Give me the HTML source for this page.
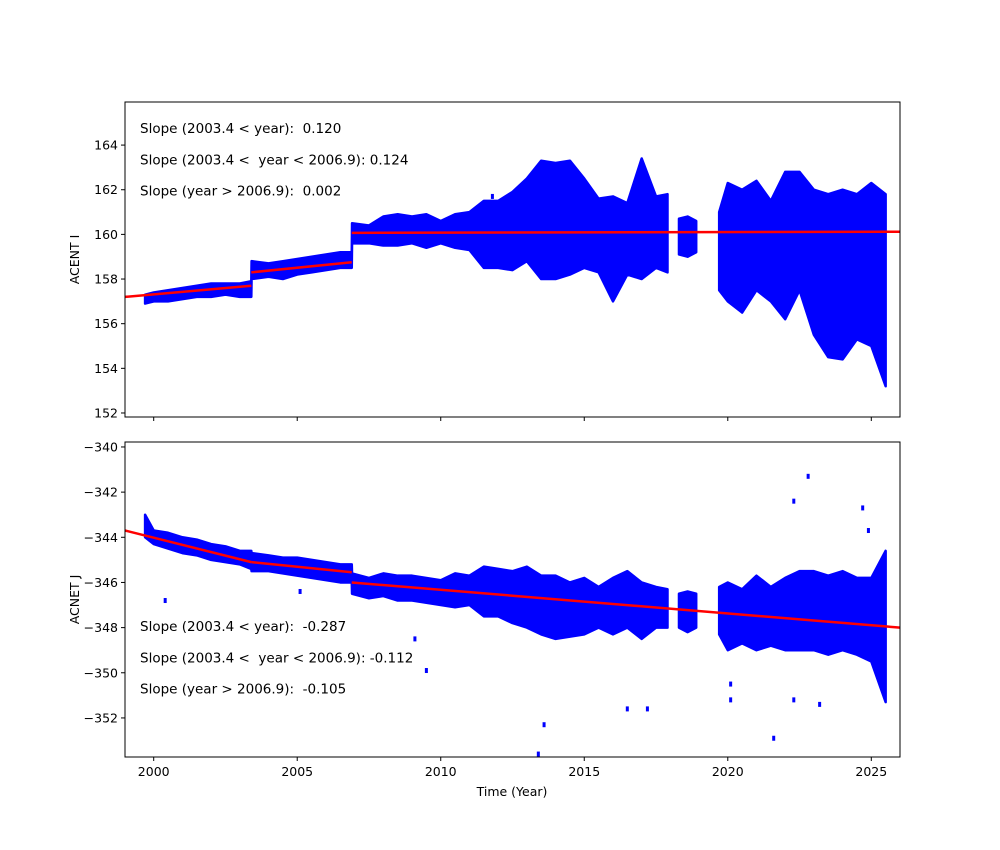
<!DOCTYPE html>
<html><head><meta charset="utf-8"><style>
body{margin:0;background:#fff}
svg{display:block;font-family:"DejaVu Sans","Liberation Sans",sans-serif}
text{white-space:pre}
</style></head><body>
<svg id="chart" width="1000" height="850" viewBox="0 0 1000 850"></svg>
<script>
// ---- data ----
const years = [1999.7,2000,2000.5,2001,2001.5,2002,2002.5,2003,2003.4,2003.41,2004,2004.5,2005,2005.5,2006,2006.5,2006.9,2006.91,2007.5,2008,2008.5,2009,2009.5,2010,2010.5,2011,2011.5,2012,2012.5,2013,2013.5,2014,2014.5,2015,2015.5,2016,2016.5,2017,2017.5,2017.9,null,2018.3,2018.6,2018.9,null,2019.7,2020,2020.5,2021,2021.5,2022,2022.5,2023,2023.5,2024,2024.5,2025,2025.5];
const topMin = [156.9,157.0,157.0,157.1,157.2,157.2,157.3,157.2,157.2,158.0,158.1,158.0,158.2,158.3,158.4,158.5,158.5,159.6,159.6,159.5,159.5,159.6,159.4,159.6,159.4,159.3,158.5,158.5,158.4,158.8,158.0,158.0,158.2,158.5,158.3,157.0,158.2,158.0,158.5,158.3,null,159.1,159.0,159.2,null,157.5,157.0,156.5,157.5,157.0,156.2,157.5,155.5,154.5,154.4,155.3,155.0,153.2];
const topMax = [157.3,157.4,157.5,157.6,157.7,157.8,157.8,157.8,157.9,158.8,158.7,158.8,158.9,159.0,159.1,159.2,159.2,160.5,160.4,160.8,160.9,160.8,160.9,160.6,160.9,161.0,161.5,161.5,161.9,162.5,163.3,163.2,163.3,162.5,161.6,161.7,161.4,163.4,161.7,161.8,null,160.7,160.8,160.6,null,161.0,162.3,162.0,162.4,161.5,162.8,162.8,162.0,161.8,162.0,161.8,162.3,161.8];
const botMin = [-344.0,-344.3,-344.5,-344.7,-344.8,-345.0,-345.1,-345.2,-345.4,-345.5,-345.5,-345.6,-345.7,-345.8,-345.9,-346.0,-346.0,-346.5,-346.7,-346.6,-346.8,-346.8,-346.9,-347.0,-347.1,-347.0,-347.5,-347.5,-347.8,-348.0,-348.3,-348.5,-348.4,-348.3,-348.0,-348.3,-348.0,-348.5,-348.0,-348.0,null,-348.0,-348.2,-348.0,null,-348.3,-349.0,-348.7,-349.0,-348.8,-349.0,-349.0,-349.0,-349.2,-349.0,-349.2,-349.5,-351.3];
const botMax = [-343.0,-343.7,-343.8,-344.0,-344.1,-344.3,-344.4,-344.6,-344.6,-344.7,-344.8,-344.9,-344.9,-345.0,-345.1,-345.2,-345.2,-345.6,-345.8,-345.6,-345.7,-345.7,-345.8,-345.9,-345.6,-345.7,-345.3,-345.4,-345.5,-345.3,-345.7,-345.7,-346.0,-345.8,-346.2,-345.8,-345.5,-346.0,-346.2,-346.3,null,-346.5,-346.4,-346.5,null,-346.2,-346.0,-346.3,-345.7,-346.2,-345.8,-345.5,-345.5,-345.7,-345.5,-345.8,-345.8,-344.6];
const outTopX = [2011.8];
const outTopY = [161.7];
const outBotX = [2000.4,2005.1,2009.1,2009.5,2013.6,2013.4,2016.5,2017.2,2020.1,2020.1,2021.6,2022.3,2022.3,2022.8,2023.2,2024.7,2024.9];
const outBotY = [-346.8,-346.4,-348.5,-349.9,-352.3,-353.6,-351.6,-351.6,-350.5,-351.2,-352.9,-342.4,-351.2,-341.3,-351.4,-342.7,-343.7];
const fitTopX = [[1999,2003.4],[2003.4,2006.9],[2006.9,2026]];
const fitTopY = [[157.2,157.7],[158.3,158.75],[160.07,160.12]];
const fitBotX = [[1999,2003.4],[2003.4,2006.9],[2006.9,2026]];
const fitBotY = [[-343.7,-345.1],[-345.1,-345.55],[-346.0,-348.0]];
const xTicks = [2000,2005,2010,2015,2020,2025];
const topTicks = [152,154,156,158,160,162,164];
const botTicks = [-352,-350,-348,-346,-344,-342,-340];
const topTexts = ["Slope (2003.4 < year):  0.120","Slope (2003.4 <  year < 2006.9): 0.124","Slope (year > 2006.9):  0.002"];
const botTexts = ["Slope (2003.4 < year):  -0.287","Slope (2003.4 <  year < 2006.9): -0.112","Slope (year > 2006.9):  -0.105"];

const NS="http://www.w3.org/2000/svg";
const svg=document.getElementById('chart');
function mk(tag,attrs,parent){const e=document.createElementNS(NS,tag);for(const k in attrs)e.setAttribute(k,attrs[k]);(parent||svg).appendChild(e);return e;}
const X0=125,X1=900,xmin=1999,xmax=2026;
const xs=v=>X0+(v-xmin)/(xmax-xmin)*(X1-X0);

function panel(name,top,bot,ymin,ymax,mins,maxs,ox,oy,fx,fy,ticks,label,texts,textTop,showXLabels){
  const ys=v=>bot-(v-ymin)/(ymax-ymin)*(bot-top);
  const g=mk('g',{});
  
  
  let seg=[];
  const flush=()=>{
    if(seg.length){
      let pts=seg.map(i=>xs(years[i])+','+ys(maxs[i]));
      pts=pts.concat(seg.slice().reverse().map(i=>xs(years[i])+','+ys(mins[i])));
      const p=mk('polygon',{points:pts.join(' '),fill:'#0000ff',stroke:'#0000ff','stroke-width':2.5,'stroke-linejoin':'round'},g);
      
      
    }
    seg=[];
  };
  for(let i=0;i<years.length;i++){ if(years[i]===null){flush();} else seg.push(i);} flush();
  for(let i=0;i<ox.length;i++){
    const r=mk('rect',{x:xs(ox[i])-1.5,y:ys(oy[i])-2.5,width:3,height:5,fill:'#0000ff'},g);
    
    
  }
  for(let i=0;i<fx.length;i++){
    const l=mk('line',{x1:xs(fx[i][0]),y1:ys(fy[i][0]),x2:xs(fx[i][1]),y2:ys(fy[i][1]),stroke:'#ff0000','stroke-width':2.5},g);
    
    
  }
  const fr=mk('rect',{x:X0,y:top,width:X1-X0,height:bot-top,fill:'none',stroke:'#000','stroke-width':1},g);
  
  
  ticks.forEach(t=>{
    const y=ys(t);
    mk('line',{x1:X0-4,x2:X0,y1:y,y2:y,stroke:'#000'},g);
    const tx=mk('text',{x:X0-7,y:y+4.5,'text-anchor':'end','font-size':12.5},g);
    tx.textContent=String(t).replace('-','\u2212');
    
    
  });
  xTicks.forEach(t=>{
    const x=xs(t);
    mk('line',{x1:x,x2:x,y1:bot,y2:bot+4,stroke:'#000'},g);
    if(showXLabels){
      const tx=mk('text',{x:x,y:bot+19,'text-anchor':'middle','font-size':12.5},g);
      tx.textContent=t;
      
      
    }
  });
  const yl=mk('text',{x:0,y:0,transform:`translate(79,${(top+bot)/2}) rotate(-90)`,'text-anchor':'middle','font-size':12.5},g);
  yl.textContent=label;
  
  
  texts.forEach((s,i)=>{
    const t=mk('text',{x:140,y:textTop+i*31.3,'font-size':13.5},g);
    t.textContent=s;
    
    
  });
}
panel('top',102,417,151.82,165.93,topMin,topMax,outTopX,outTopY,fitTopX,fitTopY,topTicks,'ACENT I',topTexts,133,false);
panel('bottom',442,757,-353.73,-339.78,botMin,botMax,outBotX,outBotY,fitBotX,fitBotY,botTicks,'ACNET J',botTexts,631,true);
const xl=mk('text',{x:512,y:796,'text-anchor':'middle','font-size':12.5});
xl.textContent='Time (Year)';


</script>
</body></html>
